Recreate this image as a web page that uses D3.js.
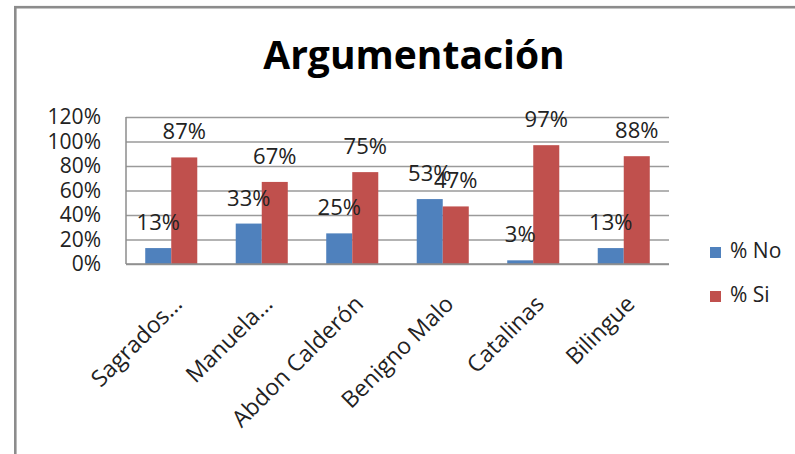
<!DOCTYPE html>
<html>
<head>
<meta charset="utf-8">
<script src="https://cdn.jsdelivr.net/npm/d3@7"></script>
<style>
  html, body { margin: 0; padding: 0; background: #fff; }
  svg { display: block; }
  text { font-family: "Open Sans", sans-serif; }
</style>
</head>
<body>
<svg id="chart" width="795" height="454"></svg>
<script>
// Categories (schools) and the two answer series, in percent
const categories = ["Sagrados...", "Manuela...", "Abdon Calderón", "Benigno Malo", "Catalinas", "Bilingue"];
const seriesNames = ["% No", "% Si"];
const valuesNo = [13, 33, 25, 53, 3, 13];
const valuesSi = [87, 67, 75, 47, 97, 88];
const yTicks = [0, 20, 40, 60, 80, 100, 120];
const colors = ["#4F81BD", "#C0504D"];

const svg = d3.select("#chart");

// Outer chart frame (runs past the right and bottom edges)
svg.append("rect")
  .attr("x", 15.3).attr("y", 7.2)
  .attr("width", 820).attr("height", 470)
  .attr("fill", "#fff")
  .attr("stroke", "#8c8c8c")
  .attr("stroke-width", 2.6);

// Title
svg.append("text")
  .attr("x", 414).attr("y", 69)
  .attr("text-anchor", "middle")
  .attr("font-size", 39)
  .attr("font-weight", 700)
  .attr("fill", "#000")
  .text("Argumentación");

const plot = { left: 126, right: 669, top: 117, bottom: 264 };

const y = d3.scaleLinear()
  .domain([0, 120])
  .range([plot.bottom, plot.top]);

const x0 = d3.scaleBand()
  .domain(categories)
  .range([plot.left, plot.right])
  .paddingInner(0.425)
  .paddingOuter(0.2125);

const x1 = d3.scaleBand()
  .domain(seriesNames)
  .range([0, x0.bandwidth()])
  .padding(0);

// Gridlines + y tick labels
const yAxis = d3.axisLeft(y)
  .tickValues(yTicks)
  .tickFormat(d => d + "%")
  .tickSize(-(plot.right - plot.left))
  .tickPadding(25);

const gy = svg.append("g")
  .attr("transform", `translate(${plot.left},0)`)
  .call(yAxis);
gy.select(".domain").remove();
gy.selectAll(".tick line")
  .attr("stroke", "#9a9a9a")
  .attr("stroke-width", 1.3);
gy.selectAll(".tick text")
  .attr("font-size", 21)
  .attr("fill", "#222")
  .attr("font-family", "'Open Sans', sans-serif");

// Value axis line
svg.append("line")
  .attr("x1", plot.left).attr("x2", plot.left)
  .attr("y1", plot.top).attr("y2", plot.bottom)
  .attr("stroke", "#8c8c8c").attr("stroke-width", 1.5);

const rows = categories.map((c, i) => ({
  cat: c,
  vals: [
    { s: seriesNames[0], v: valuesNo[i], k: 0 },
    { s: seriesNames[1], v: valuesSi[i], k: 1 }
  ]
}));

const groups = svg.append("g").selectAll("g")
  .data(rows)
  .join("g")
  .attr("transform", d => `translate(${x0(d.cat)},0)`);

groups.selectAll("rect")
  .data(d => d.vals)
  .join("rect")
  .attr("x", d => x1(d.s))
  .attr("y", d => y(d.v))
  .attr("width", x1.bandwidth())
  .attr("height", d => y(0) - y(d.v))
  .attr("fill", d => colors[d.k]);

// Value labels
groups.selectAll("text.val")
  .data(d => d.vals)
  .join("text")
  .attr("class", "val")
  .attr("x", d => x1(d.s) + x1.bandwidth() / 2)
  .attr("y", d => y(d.v) - 18)
  .attr("text-anchor", "middle")
  .attr("font-size", 22)
  .attr("fill", "#222")
  .text(d => d.v + "%");

// Category axis line
svg.append("line")
  .attr("x1", plot.left).attr("x2", plot.right)
  .attr("y1", plot.bottom).attr("y2", plot.bottom)
  .attr("stroke", "#8c8c8c").attr("stroke-width", 1.5);

// Rotated category labels
svg.append("g").selectAll("text")
  .data(categories)
  .join("text")
  .attr("transform", d => `translate(${x0(d) + x0.bandwidth() / 2 + 6},${plot.bottom + 35}) rotate(-45)`)
  .attr("text-anchor", "end")
  .attr("dominant-baseline", "central")
  .attr("font-size", 23)
  .attr("fill", "#222")
  .text(d => d);

// Legend
const legend = svg.append("g").selectAll("g")
  .data(seriesNames)
  .join("g")
  .attr("transform", (d, i) => `translate(710,${247 + i * 44})`);
legend.append("rect")
  .attr("width", 11).attr("height", 11)
  .attr("fill", (d, i) => colors[i]);
legend.append("text")
  .attr("x", 20).attr("y", 11)
  .attr("font-size", 21)
  .attr("fill", "#222")
  .text(d => d);
</script>
</body>
</html>
